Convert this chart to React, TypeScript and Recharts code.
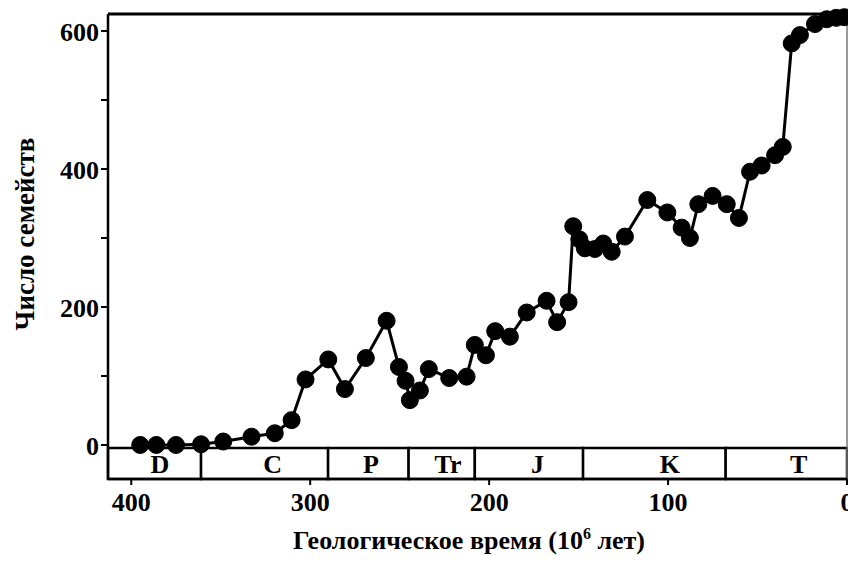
import React from 'react';
import { ComposedChart, Line, XAxis, YAxis, ReferenceArea, ReferenceLine, ReferenceDot } from 'recharts';

// Geological time (million years ago)
const ages = [395, 386, 375, 361, 348.6, 332.8, 319.8, 310.4, 302.6, 289.9, 280.6, 268.9, 257.3, 250.4, 246.7, 244.3, 238.7, 233.7, 222.3, 212.6, 208, 201.8, 196.6, 188.4, 179, 167.9, 162, 155.6, 153, 149.6, 146.5, 140.9, 136.2, 131.5, 124.1, 111.6, 100.4, 92.4, 87.8, 83.1, 75.1, 67.2, 60.4, 54.2, 47.7, 40.2, 35.9, 30.9, 26.3, 17.9, 11.3, 6, 1.5];
// Number of families
const families = [0, 0, 0, 1, 5, 12, 17, 36, 95, 124, 81, 126, 180, 113, 93, 65, 79, 110, 97, 99, 145, 130, 165, 157, 192, 209, 178, 207, 317, 298, 285, 284, 292, 280, 302, 355, 337, 315, 300, 349, 361, 349, 329, 396, 405, 420, 432, 582, 594, 610, 617, 619, 620];

// Geological periods
const periodNames = ['D', 'C', 'P', 'Tr', 'J', 'K', 'T'];
const periodStarts = [413, 361, 290, 245, 208, 147.5, 67.8];
const periodEnds = [361, 290, 245, 208, 147.5, 67.8, 0];
const periodLabelAges = [384, 321, 266, 223, 173, 99, 27];

const xTicks = [400, 300, 200, 100, 0];
const yTicks = [0, 100, 200, 300, 400, 500, 600];
const yLabelTicks = [0, 200, 400, 600];

const xDomain = [0, 413];
const yMax = 624.6;
const bandTop = -4.3;
const bandBottom = -49.3;
const bandMid = (bandTop + bandBottom) / 2;

const data = ages.map((a, i) => ({ age: a, n: families[i] }));

const FONT = '"Liberation Serif", "DejaVu Serif", serif';

const XTick = (props: any) => (
  <text x={props.x} y={props.y} dy={24} textAnchor="middle" fontSize={26} fontWeight="bold" fontFamily={FONT} fill="#000">
    {props.payload.value}
  </text>
);

const YTick = (props: any) => {
  const v = props.payload.value;
  if (!yLabelTicks.includes(v)) return null;
  return (
    <text x={props.x} y={props.y} dy={10} textAnchor="end" fontSize={26} fontWeight="bold" fontFamily={FONT} fill="#000">
      {v}
    </text>
  );
};

export default function App() {
  return (
    <div style={{ position: 'absolute', left: 0, top: 0, width: 848, height: 567, background: '#fff' }}>
      <ComposedChart width={848} height={567} data={data} margin={{ top: 14, right: 1, left: 0, bottom: 0 }}>
        <XAxis
          dataKey="age"
          type="number"
          domain={xDomain}
          reversed
          ticks={xTicks}
          tick={<XTick />}
          tickSize={6}
          tickLine={{ stroke: '#000', strokeWidth: 2 }}
          axisLine={{ stroke: '#000', strokeWidth: 2.5 }}
          height={88}
          interval={0}
        />
        <YAxis
          type="number"
          domain={[bandBottom, yMax]}
          ticks={yTicks}
          tick={<YTick />}
          tickSize={7}
          tickLine={{ stroke: '#000', strokeWidth: 2 }}
          axisLine={{ stroke: '#000', strokeWidth: 2.5 }}
          width={108}
          interval={0}
        />
        <ReferenceLine y={yMax} stroke="#000" strokeWidth={3} />
        <ReferenceLine x={0} stroke="#777" strokeWidth={1.5} />
        <Line
          dataKey="n"
          stroke="#000"
          strokeWidth={3}
          isAnimationActive={false}
          dot={{ r: 8.5, fill: '#000', stroke: '#000', strokeWidth: 1 }}
          activeDot={false}
        />
        {periodNames.map((p, i) => (
          <ReferenceArea
            key={p}
            x1={periodStarts[i]}
            x2={periodEnds[i]}
            y1={bandBottom}
            y2={bandTop}
            fill="#fff"
            fillOpacity={1}
            stroke="#000"
            strokeWidth={2.5}
          />
        ))}
        {periodNames.map((p, i) => (
          <ReferenceDot
            key={'l' + p}
            x={periodLabelAges[i]}
            y={bandMid}
            r={0}
            fill="none"
            stroke="none"
            label={{ value: p, position: 'center', fontSize: 26, fontWeight: 'bold', fontFamily: FONT, fill: '#000' }}
          />
        ))}
      </ComposedChart>
      <svg width={848} height={567} style={{ position: 'absolute', left: 0, top: 0, pointerEvents: 'none' }}>
        <text
          transform="translate(34,234) rotate(-90)"
          textAnchor="middle"
          fontSize={27}
          fontWeight="bold"
          fontFamily={FONT}
          fill="#000"
        >
          Число семейств
        </text>
        <text x={469} y={549} textAnchor="middle" fontSize={26} fontWeight="bold" fontFamily={FONT} fill="#000">
          Геологическое время (10<tspan dy={-10} fontSize={16}>6</tspan><tspan dy={10}> лет)</tspan>
        </text>
      </svg>
    </div>
  );
}
